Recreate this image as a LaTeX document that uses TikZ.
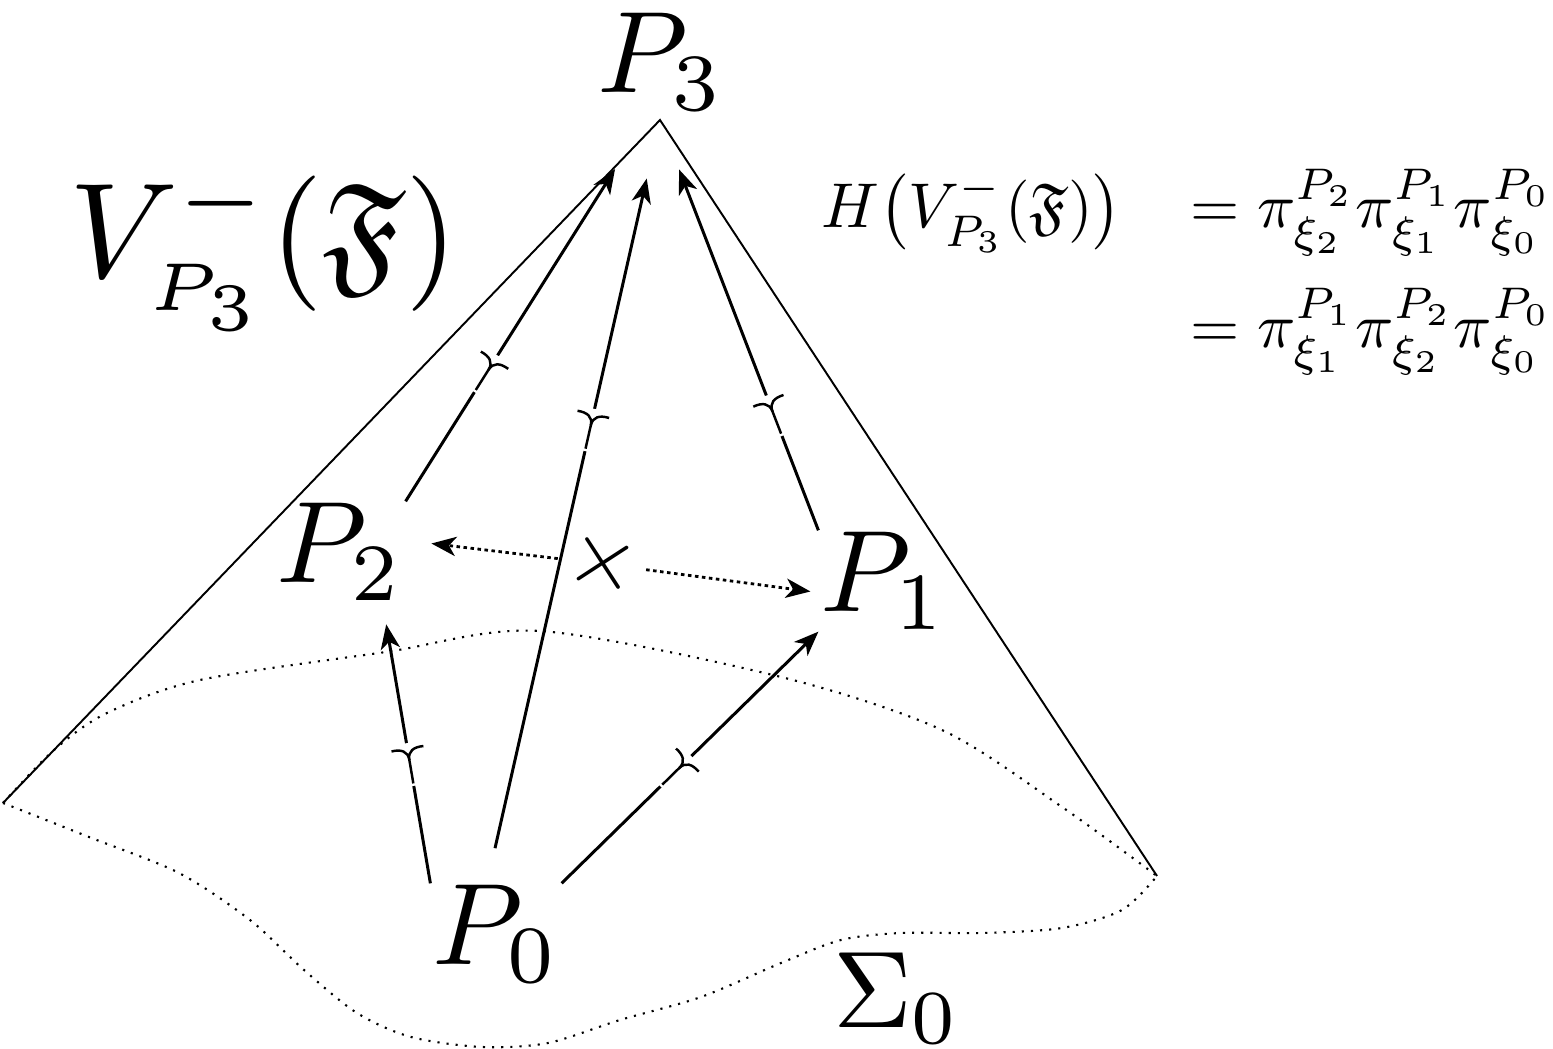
\documentclass[tikz,border=0pt]{standalone}
\usepackage{amsmath}
\usepackage{amssymb}
\usetikzlibrary{arrows.meta}
\usetikzlibrary{decorations.markings}

\begin{document}
\begin{tikzpicture}[x=0.01cm, y=-0.01cm,
  vertex/.style={inner sep=0pt, scale=3.3},
  cone/.style={line width=0.55pt},
  surf/.style={line width=0.6pt, dotted},
  spine/.style={line width=0.85pt, -{Stealth[length=7pt,width=5.5pt,inset=2pt]}},
  swap/.style={line width=0.8pt, dash pattern=on 1pt off 1pt, -{Stealth[length=7pt,width=5.5pt,inset=2pt]}},
  ymark/.style={postaction={decorate, decoration={markings, mark=at position #1 with {
    \fill[white] (-7.5pt,-5pt) rectangle (4.8pt,5pt);
    \draw[-, shorten <=0pt, shorten >=0pt, line width=0.7pt] (-6.8pt,0pt) -- (0pt,0pt) .. controls (2.5pt,0pt) and (3.4pt,1.8pt) .. (3.2pt,4.6pt);
    \draw[-, shorten <=0pt, shorten >=0pt, line width=0.7pt] (0pt,0pt) .. controls (2.5pt,0pt) and (3.4pt,-1.8pt) .. (3.2pt,-4.6pt);}}}}]
\useasboundingbox (0,0) rectangle (1553,1049);
\coordinate (apex) at (660,120);
\coordinate (sl) at (3,803);
\coordinate (sr) at (1157,876);
\node[vertex] (P3) at (661,62) {$P_3$};
\node[vertex] (P2) at (340,552) {$P_2$};
\node[vertex] (P1) at (884,581) {$P_1$};
\node[vertex] (P0) at (496,934) {$P_0$};
\node[inner sep=0pt, scale=3.1] (S0) at (897,998) {$\Sigma_0$};
\node[inner sep=0pt, scale=3.85] (V) at (264,250) {$V^{-}_{\scriptscriptstyle P_3}(\mathfrak{F})$};
\node[inner sep=0pt, anchor=base west, scale=1.8] (H) at (820,228) {$\begin{aligned}[t]
  H\bigl(V^{-}_{P_3}(\mathfrak{F})\bigr)\hspace{8pt} &= \pi^{P_2}_{\xi_2}\pi^{P_1}_{\xi_1}\pi^{P_0}_{\xi_0}\\[1.2pt]
  &= \pi^{P_1}_{\xi_1}\pi^{P_2}_{\xi_2}\pi^{P_0}_{\xi_0}
  \end{aligned}$};
\node[inner sep=0pt, rotate=-12, scale=2.6] (X) at (603,564) {$\times$};
\draw[cone] (sl) -- (apex) -- (sr);
\draw[surf] plot[smooth] coordinates {(3,803) (54,750) (107,713) (200,680) (386,652) (540,631) (781,677) (942,730) (1062,807) (1157,876)};
\draw[surf] plot[smooth] coordinates {(3,803) (89,837) (179,873) (250,920) (304,970) (357,1013) (411,1037) (482,1047) (548,1043) (620,1020) (701,997) (781,963) (841,940) (901,933) (982,933) (1062,928) (1122,910) (1157,876)};
\draw[spine, ymark=0.345, shorten >=0.58cm] (P2.north east) -- ([xshift=-0.14cm]apex);
\draw[spine, ymark=0.6, shorten <=0.36cm, shorten >=0.6cm] (P0.100) -- (apex);
\draw[spine, ymark=0.29, shorten >=0.53cm] (P1.north west) -- (apex);
\draw[spine, ymark=0.44, shorten >=0.22cm] (P0.north west) -- (P2.-50);
\draw[spine, ymark=0.46] (P0.north east) -- (P1.south west);
\draw[swap, shorten <=0.08cm, shorten >=0.26cm] (X) -- (P2.10);
\draw[swap, shorten <=0.06cm, shorten >=0.08cm] (X) -- (P1.190);
\end{tikzpicture}
\end{document}
